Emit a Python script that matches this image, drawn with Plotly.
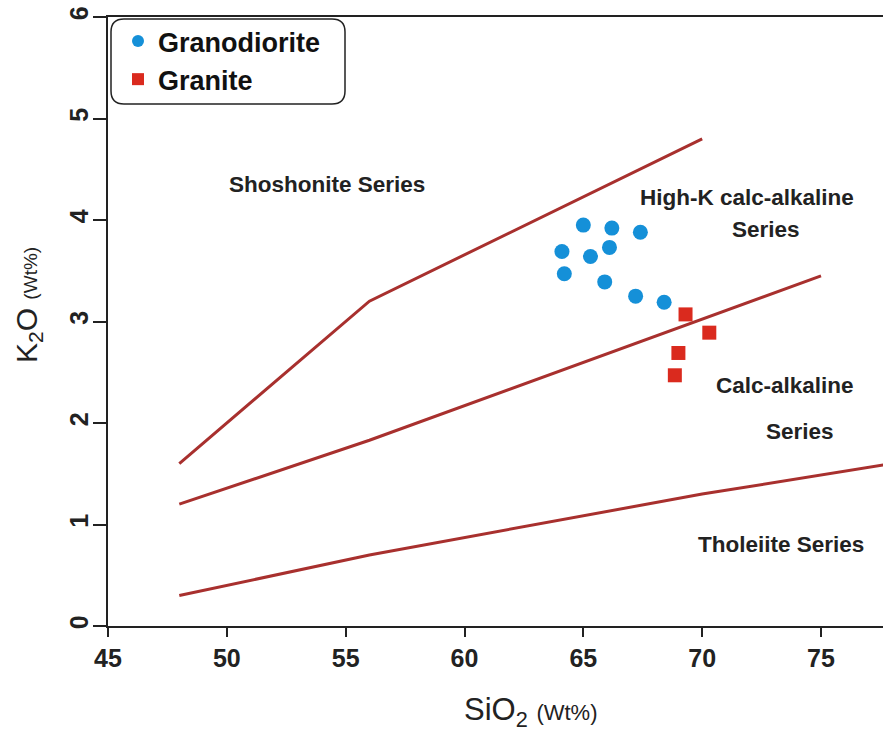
import plotly.graph_objects as go

# Data
grano_x = [64.1, 65.0, 66.2, 67.4, 66.1, 65.3, 64.2, 65.9, 67.2, 68.4]
grano_y = [3.69, 3.95, 3.92, 3.88, 3.73, 3.64, 3.47, 3.39, 3.25, 3.19]
granite_x = [69.3, 70.3, 69.0, 68.85]
granite_y = [3.07, 2.89, 2.69, 2.47]

shosh_x = [48, 56, 70]
shosh_y = [1.6, 3.2, 4.8]
highk_x = [48, 56, 75]
highk_y = [1.2, 1.83, 3.45]
thol_x = [48, 56, 70, 78]
thol_y = [0.3, 0.7, 1.3, 1.6]

labels = [
    (54.2, 4.35, "Shoshonite Series"),
    (71.9, 4.22, "High-K calc-alkaline"),
    (72.7, 3.91, "Series"),
    (73.5, 2.37, "Calc-alkaline"),
    (74.1, 1.92, "Series"),
    (73.3, 0.80, "Tholeiite Series"),
]

x_ticks = [45, 50, 55, 60, 65, 70, 75]
y_ticks = [0, 1, 2, 3, 4, 5, 6]

W, H = 883, 733
ml, mr, mt, mb = 108, 0, 17, 107
pw, ph = W - ml - mr, H - mt - mb

line_color = "#A8302E"
fig = go.Figure()
for xs, ys in [(shosh_x, shosh_y), (highk_x, highk_y), (thol_x, thol_y)]:
    fig.add_trace(go.Scatter(x=xs, y=ys, mode="lines", line=dict(color=line_color, width=3),
                             showlegend=False, hoverinfo="skip"))

fig.add_trace(go.Scatter(x=grano_x, y=grano_y, mode="markers", name="Granodiorite",
                         marker=dict(symbol="circle", size=15, color="#1590D8")))
fig.add_trace(go.Scatter(x=granite_x, y=granite_y, mode="markers", name="Granite",
                         marker=dict(symbol="square", size=14, color="#DA2A1E")))

for x, y, t in labels:
    fig.add_annotation(x=x, y=y, text=t, showarrow=False,
                       font=dict(family="Liberation Sans, Arial", size=22.5, color="#222222", weight="bold"))

def px_x(p):
    return (p - ml) / pw

def px_y(p):
    return (H - mb - p) / ph

# rounded legend box
x0, x1, y0, y1 = 111, 345, 19, 104
r = 13
X0, X1 = px_x(x0), px_x(x1)
Y0, Y1 = px_y(y1), px_y(y0)
rx, ry = r / pw, r / ph
path = (f"M {X0+rx},{Y1} L {X1-rx},{Y1} Q {X1},{Y1} {X1},{Y1-ry} "
        f"L {X1},{Y0+ry} Q {X1},{Y0} {X1-rx},{Y0} L {X0+rx},{Y0} "
        f"Q {X0},{Y0} {X0},{Y0+ry} L {X0},{Y1-ry} Q {X0},{Y1} {X0+rx},{Y1} Z")
fig.add_shape(type="path", path=path, xref="paper", yref="paper",
              line=dict(color="#222222", width=1.5), fillcolor="rgba(0,0,0,0)")

# axis titles
fig.add_annotation(x=px_x(530), y=px_y(712), xref="paper", yref="paper", showarrow=False,
                   xanchor="center", yanchor="middle",
                   text="SiO<sub>2</sub> <span style='font-size:22px'>(Wt%)</span>",
                   font=dict(family="Liberation Sans, Arial", size=31, color="#222222"))
fig.add_annotation(x=px_x(28), y=px_y(305), xref="paper", yref="paper", showarrow=False,
                   xanchor="center", yanchor="middle",
                   textangle=-90,
                   text="K<sub>2</sub>O <span style='font-size:19px'>(Wt%)</span>",
                   font=dict(family="Liberation Sans, Arial", size=30, color="#222222"))

tick_font = dict(family="Liberation Sans Narrow, Arial Narrow, Liberation Sans", size=25,
                 color="#222222", weight="bold")

fig.update_layout(
    width=W, height=H,
    margin=dict(l=ml, r=mr, t=mt, b=mb),
    plot_bgcolor="white", paper_bgcolor="white",
    legend=dict(x=px_x(118), y=px_y(17), xanchor="left", yanchor="top",
                bgcolor="rgba(0,0,0,0)", font=dict(family="Liberation Sans, Arial", size=27,
                                                   color="#111111", weight="bold"),
                itemsizing="constant", tracegroupgap=0),
    xaxis=dict(range=[45, 45 + pw / (713 / 30)], tickvals=x_ticks, showgrid=False, zeroline=False,
               showline=True, linecolor="#222222", linewidth=2, mirror=True,
               ticks="outside", ticklen=9, tickwidth=1.5, tickcolor="#222222",
               tickfont=tick_font),
    yaxis=dict(range=[0, 6], tickvals=y_ticks, showgrid=False, zeroline=False,
               showline=True, linecolor="#222222", linewidth=2,
               ticks="outside", ticklen=13, tickwidth=1.5, tickcolor="#222222",
               tickangle=-90, tickfont=tick_font, ticklabelstandoff=-5),
)

fig.write_html("out.html")
